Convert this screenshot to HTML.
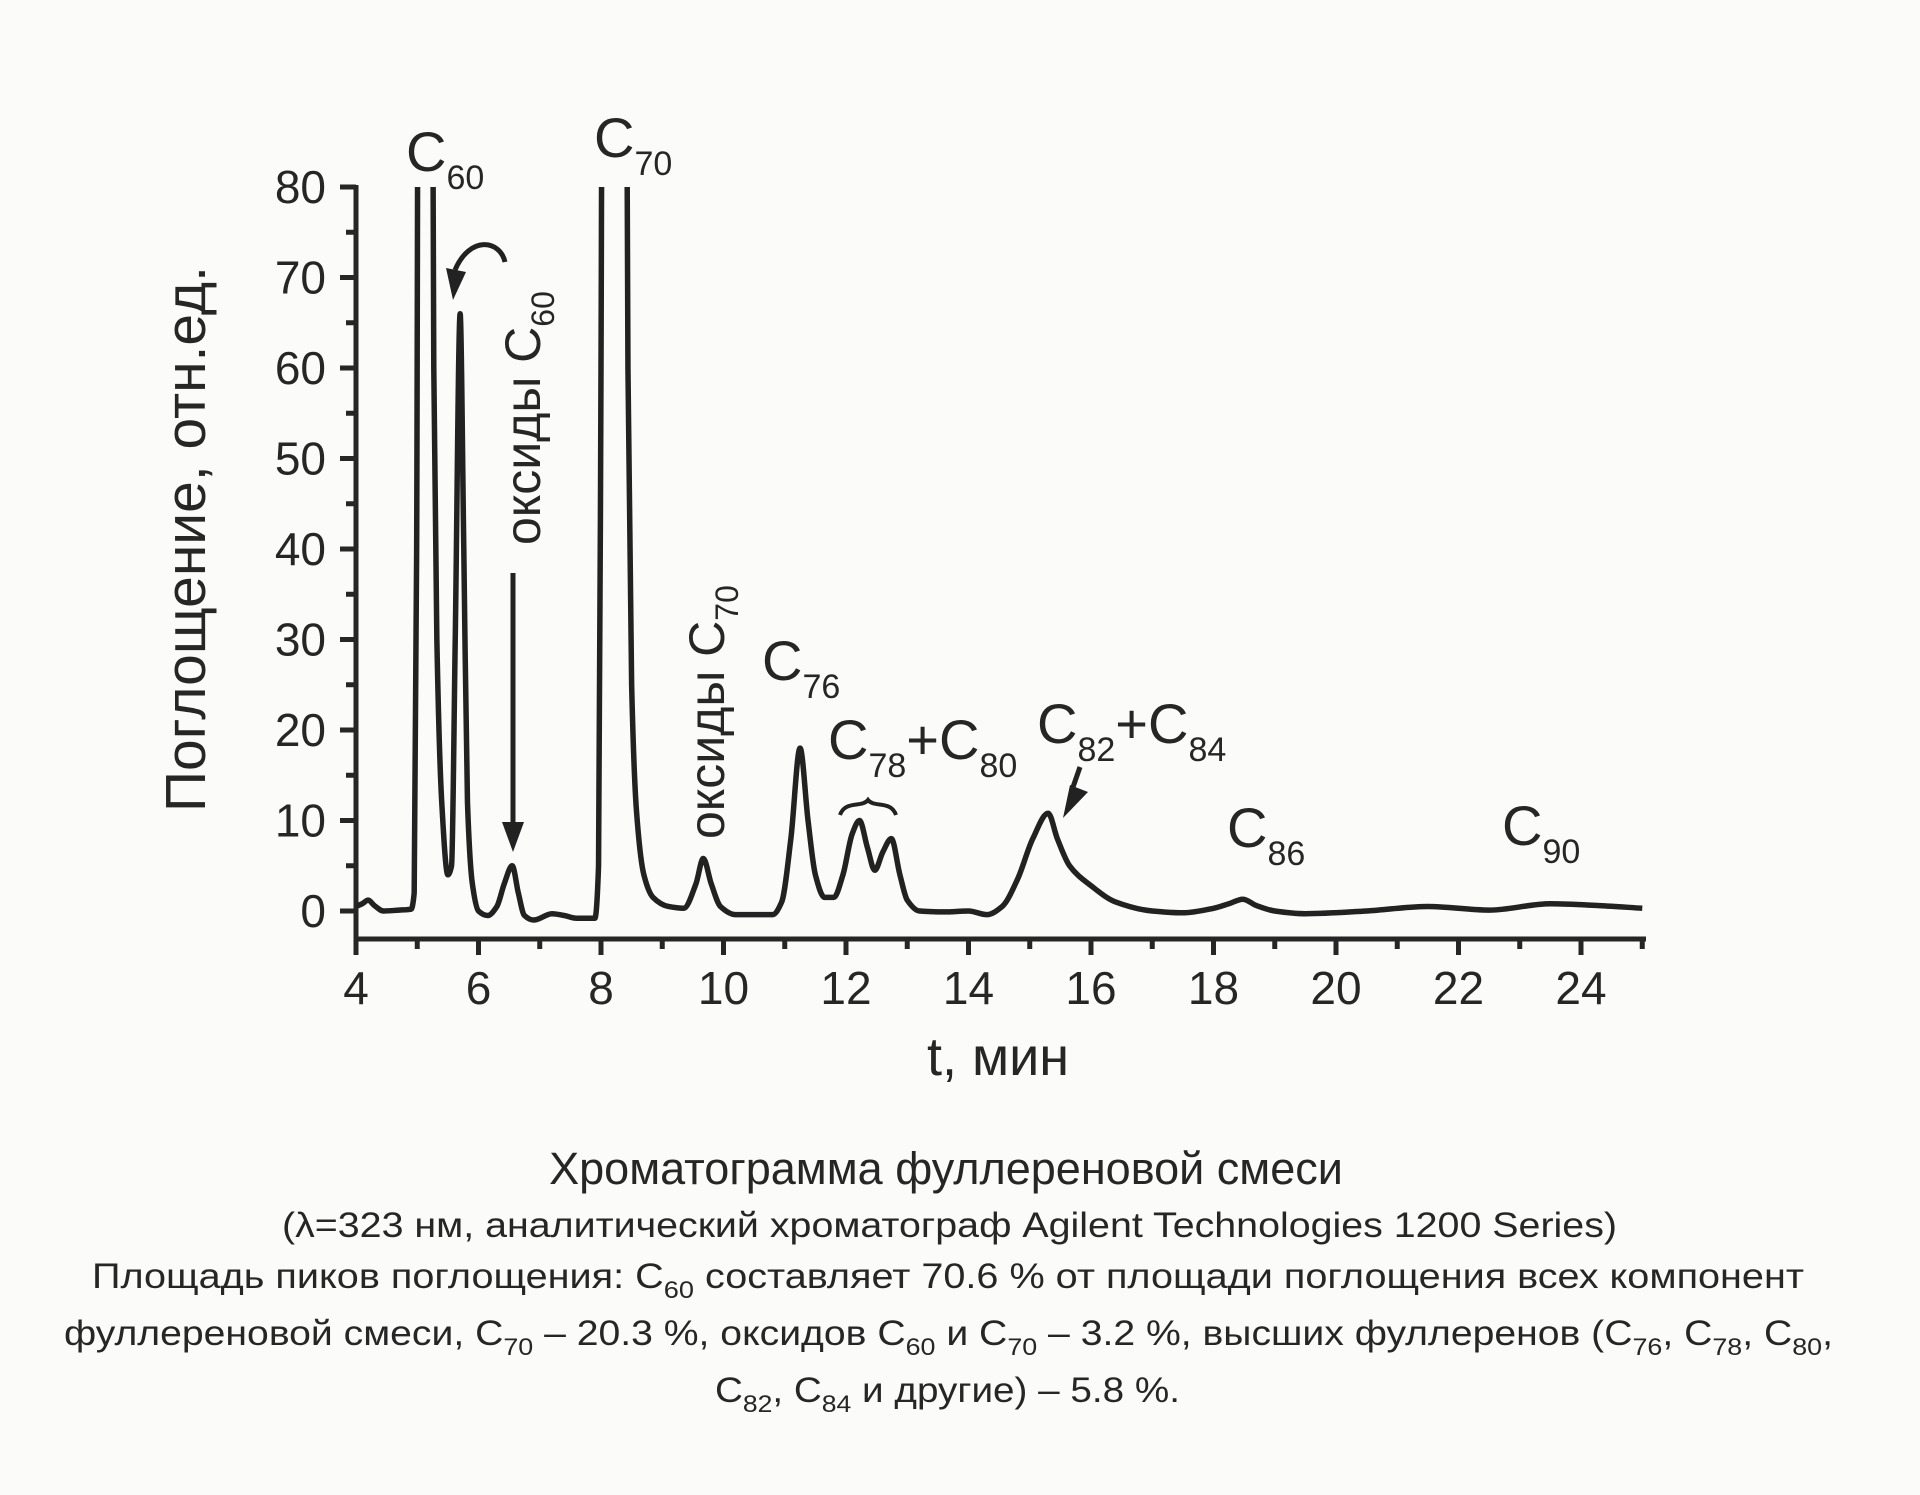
<!DOCTYPE html>
<html><head><meta charset="utf-8"><style>
html,body{margin:0;padding:0;background:#fbfbf9}
svg{display:block}
text{font-family:"Liberation Sans",sans-serif;fill:#262626}
</style></head><body>
<svg id="s" width="1920" height="1495" viewBox="0 0 1920 1495" xmlns="http://www.w3.org/2000/svg">
<rect width="1920" height="1495" fill="#fbfbf9"/>
<defs><clipPath id="c"><rect x="340" y="187" width="1320" height="760"/></clipPath></defs>
<g id="ax" stroke="#262626" stroke-width="5" fill="none">
<line x1="356" y1="185" x2="356" y2="942"/>
<line x1="354" y1="939" x2="1646" y2="939"/>
</g>
<g id="ticks" stroke="#262626" stroke-width="5"></g>
<g id="lab" font-size="46" text-anchor="end"></g>
<g id="xl" font-size="46" text-anchor="middle"></g>
<path id="curve" clip-path="url(#c)" fill="none" stroke="#222" stroke-width="5.5" stroke-linejoin="round"/>
<text transform="translate(205,539) rotate(-90)" font-size="57" text-anchor="middle">Поглощение, отн.ед.</text>
<text x="998" y="1075" font-size="54" text-anchor="middle">t, мин</text>
<g font-size="56">
<text x="406" y="171">C<tspan font-size="34" dy="18">60</tspan></text>
<text x="594" y="157">C<tspan font-size="34" dy="18">70</tspan></text>
<text x="762" y="680">C<tspan font-size="34" dy="18">76</tspan></text>
<text x="828" y="759">C<tspan font-size="34" dy="18">78</tspan><tspan dy="-18">+C</tspan><tspan font-size="34" dy="18">80</tspan></text>
<text x="1037" y="743">C<tspan font-size="34" dy="18">82</tspan><tspan dy="-18">+C</tspan><tspan font-size="34" dy="18">84</tspan></text>
<text x="1227" y="847">C<tspan font-size="34" dy="18">86</tspan></text>
<text x="1502" y="845">C<tspan font-size="34" dy="18">90</tspan></text>
</g>
<text transform="translate(540,545) rotate(-90)" font-size="50">оксиды C<tspan font-size="32" dy="14">60</tspan></text>
<text transform="translate(724,839) rotate(-90)" font-size="50">оксиды C<tspan font-size="32" dy="14">70</tspan></text>
<g stroke="#222" stroke-width="5" fill="none">
<line x1="513" y1="573" x2="513" y2="825"/>
<path d="M455,270 C470,235 500,240 505,262"/>
<path d="M840,815 C845,800 862,808 868,800 C874,808 891,800 896,815" stroke-width="4"/>
<line x1="1080" y1="767" x2="1072" y2="790"/>
</g>
<g fill="#222">
<polygon points="502,822 524,822 513,852"/>
<polygon points="446,268 466,272 453,300"/>
<polygon points="1070,785 1088,792 1063,818"/>
</g>
<g font-size="45" text-anchor="middle">
<text x="946" y="1184">Хроматограмма фуллереновой смеси</text>
</g>
<g font-size="35" text-anchor="start">
<text x="282" y="1237" textLength="1335" lengthAdjust="spacingAndGlyphs">(λ=323 нм, аналитический хроматограф Agilent Technologies 1200 Series)</text>
<text x="92" y="1288" textLength="1712" lengthAdjust="spacingAndGlyphs">Площадь пиков поглощения: C<tspan font-size="24" dy="10">60</tspan><tspan dy="-10"> составляет 70.6 % от площади поглощения  всех компонент</tspan></text>
<text x="64" y="1345" textLength="1769" lengthAdjust="spacingAndGlyphs">фуллереновой смеси, C<tspan font-size="24" dy="10">70</tspan><tspan dy="-10"> – 20.3 %, оксидов C</tspan><tspan font-size="24" dy="10">60</tspan><tspan dy="-10"> и C</tspan><tspan font-size="24" dy="10">70</tspan><tspan dy="-10"> – 3.2 %, высших фуллеренов (C</tspan><tspan font-size="24" dy="10">76</tspan><tspan dy="-10">, C</tspan><tspan font-size="24" dy="10">78</tspan><tspan dy="-10">, C</tspan><tspan font-size="24" dy="10">80</tspan><tspan dy="-10">,</tspan></text>
<text x="715" y="1402" textLength="465" lengthAdjust="spacingAndGlyphs">C<tspan font-size="24" dy="10">82</tspan><tspan dy="-10">, C</tspan><tspan font-size="24" dy="10">84</tspan><tspan dy="-10"> и другие) – 5.8 %.</tspan></text>
</g>
</svg>
<script>
var NS="http://www.w3.org/2000/svg";
function X(t){return 356+61.25*(t-4);}
function Y(v){return 911-9.05*v;}
var tk=document.getElementById("ticks"),lab=document.getElementById("lab"),xl=document.getElementById("xl");
function el(p,n,a,txt){var e=document.createElementNS(NS,n);for(var k in a)e.setAttribute(k,a[k]);if(txt!==undefined)e.textContent=txt;p.appendChild(e);return e;}
for(var v=0;v<=80;v+=5){var y=Y(v);var L=(v%10==0)?16:10;el(tk,"line",{x1:356-L,y1:y,x2:356,y2:y});
 if(v%10==0)el(lab,"text",{x:326,y:y+16},String(v));}
for(var t=4;t<=25;t++){var x=X(t);var L=(t%2==0)?16:10;el(tk,"line",{x1:x,y1:939,x2:x,y2:939+L});
 if(t%2==0)el(xl,"text",{x:x,y:1004},String(t));}
var d=[[4,0.5],[4.1,0.8],[4.2,1.2],[4.3,0.6],[4.45,0],[4.7,0.1],[4.9,0.2],[4.95,2],[4.99,40],[5.02,110],[5.24,110],[5.27,60],[5.32,30],[5.4,12],[5.5,4],[5.56,5],[5.62,30],[5.7,66],[5.76,40],[5.82,12],[5.9,3],[6.0,0],[6.15,-0.5],[6.3,0.5],[6.42,3],[6.55,5],[6.65,2],[6.75,-0.5],[6.9,-1],[7.2,-0.3],[7.4,-0.5],[7.6,-0.8],[7.9,-0.8],[7.96,5],[8.0,60],[8.03,120],[8.4,120],[8.44,60],[8.5,25],[8.58,11],[8.7,4],[8.85,1.5],[9.1,0.5],[9.35,0.3],[9.55,3],[9.67,5.8],[9.8,3],[9.95,0.5],[10.2,-0.4],[10.8,-0.4],[10.95,1],[11.1,8],[11.25,18],[11.38,10],[11.5,4],[11.65,1.5],[11.8,1.5],[11.95,4],[12.1,8.5],[12.22,10],[12.35,7],[12.47,4.5],[12.6,6.5],[12.74,8],[12.88,4],[13.0,1.2],[13.2,0],[13.6,-0.1],[14.0,0],[14.3,-0.4],[14.55,0.5],[14.8,3.5],[15.05,8],[15.3,10.8],[15.45,8],[15.65,5],[16.0,2.8],[16.4,1],[17.0,0],[17.5,-0.2],[18.0,0.3],[18.25,0.8],[18.48,1.3],[18.7,0.6],[19.0,0],[19.5,-0.3],[20.5,0],[21.5,0.5],[22.5,0.1],[23.5,0.8],[24.3,0.6],[25,0.3]];
var n=d.length,xs=d.map(function(q){return X(q[0]);}),ys=d.map(function(q){return Y(q[1]);});
var dl=[],m=[];
for(var i=0;i<n-1;i++)dl.push((ys[i+1]-ys[i])/(xs[i+1]-xs[i]));
m[0]=dl[0];m[n-1]=dl[n-2];
for(var i=1;i<n-1;i++){if(dl[i-1]*dl[i]<=0)m[i]=0;else{var h0=xs[i]-xs[i-1],h1=xs[i+1]-xs[i];var w1=2*h1+h0,w2=h1+2*h0;m[i]=(w1+w2)/(w1/dl[i-1]+w2/dl[i]);}}
var s="M"+xs[0]+","+ys[0];
for(var i=0;i<n-1;i++){var h=(xs[i+1]-xs[i])/3;
 s+=" C"+(xs[i]+h).toFixed(2)+","+(ys[i]+m[i]*h).toFixed(2)+" "+(xs[i+1]-h).toFixed(2)+","+(ys[i+1]-m[i+1]*h).toFixed(2)+" "+xs[i+1].toFixed(2)+","+ys[i+1].toFixed(2);}
document.getElementById("curve").setAttribute("d",s);
</script>
</body></html>
